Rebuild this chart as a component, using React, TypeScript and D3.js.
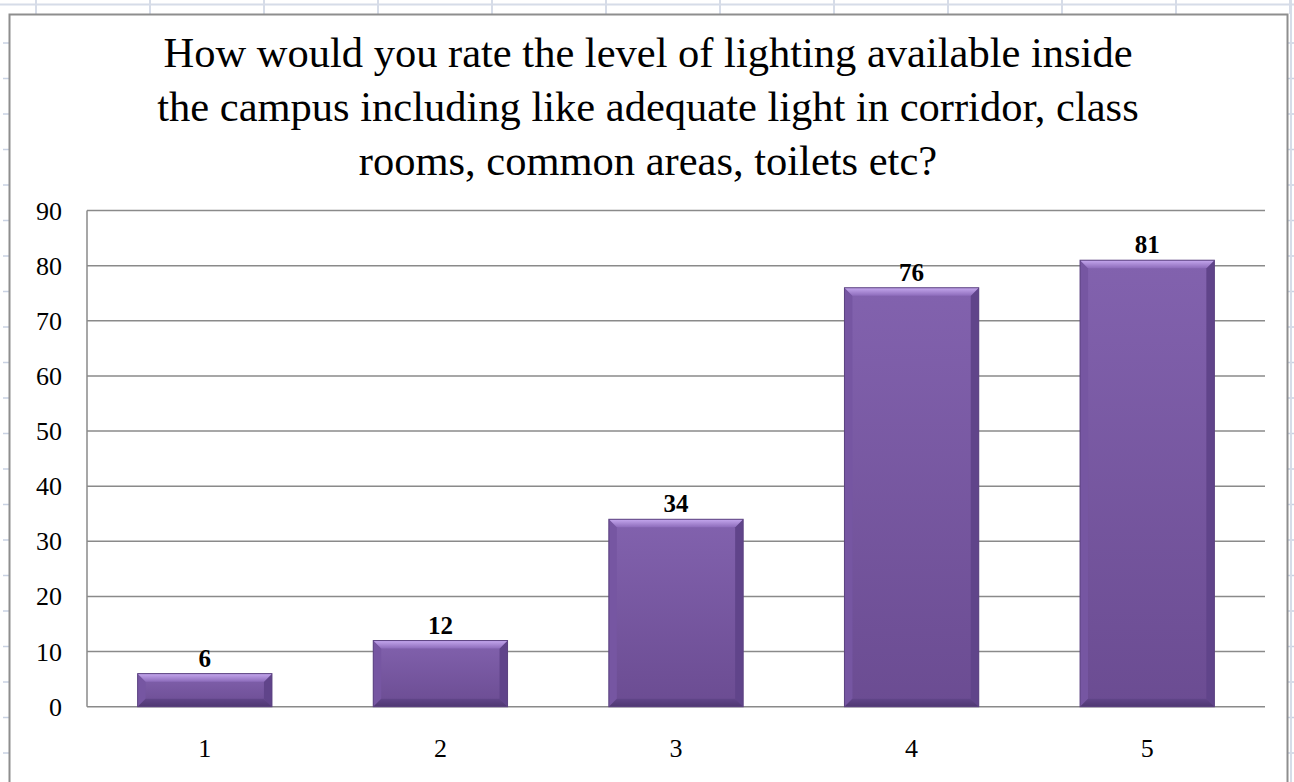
import React from "react";
import * as d3 from "d3";

const categories = ["1", "2", "3", "4", "5"];
const values = [6, 12, 34, 76, 81];
const yTicks = [0, 10, 20, 30, 40, 50, 60, 70, 80, 90];
const titleLines = [
  "How would you rate the level of lighting available inside",
  "the campus including like adequate light in corridor, class",
  "rooms, common areas, toilets etc?",
];

const W = 1294;
const H = 782;
const plot = { left: 87, right: 1265, top: 210.6, bottom: 706.7 };

export default function App() {
  const x = d3.scaleBand().domain(categories).range([plot.left, plot.right]).paddingInner(0.43).paddingOuter(0.215);
  const y = d3.scaleLinear().domain([0, 90]).range([plot.bottom, plot.top]);
  const font = "'Liberation Serif', 'Times New Roman', serif";
  const colTicks = d3.range(36, 1300, 114);
  const rowTicks = d3.range(43, 782, 35.5);
  const bev = 8;
  return (
    <svg width={W} height={H} style={{ position: "absolute", left: 0, top: 0, background: "#fff" }}>
      <defs>
        <linearGradient id="face" x1="0" y1="0" x2="0" y2="1">
          <stop offset="0" stopColor="#8262ae" />
          <stop offset="1" stopColor="#6b4c92" />
        </linearGradient>
        <linearGradient id="topbev" x1="0" y1="0" x2="0" y2="1">
          <stop offset="0" stopColor="#c5a8ee" />
          <stop offset="1" stopColor="#8d6cbb" />
        </linearGradient>
        <linearGradient id="botbev" x1="0" y1="0" x2="0" y2="1">
          <stop offset="0" stopColor="#614589" />
          <stop offset="1" stopColor="#4f3872" />
        </linearGradient>
      </defs>
      <rect x={0} y={0} width={W} height={H} fill="#fff" />
      {/* spreadsheet background */}
      <line x1={0} x2={W} y1={4.5} y2={4.5} stroke="#d6dce8" strokeWidth={2} />
      {colTicks.map((cx) => (
        <line key={cx} x1={cx} x2={cx} y1={0} y2={14} stroke="#d6dce8" strokeWidth={2} />
      ))}
      {rowTicks.map((ry) => (
        <g key={ry}>
          <line x1={3} x2={9} y1={ry} y2={ry} stroke="#c9d2e3" strokeWidth={1.5} />
          <line x1={1288} x2={1294} y1={ry} y2={ry} stroke="#c9d2e3" strokeWidth={1.5} />
        </g>
      ))}
      <line x1={1291} x2={1291} y1={0} y2={H} stroke="#d6dce8" strokeWidth={2} />
      {/* chart frame */}
      <rect x={9.5} y={14.5} width={1278} height={H} fill="#fff" stroke="#8e8e8e" strokeWidth={2} />
      {/* title */}
      {titleLines.map((t, i) => (
        <text key={i} x={648} y={67 + i * 54} textAnchor="middle" fontFamily={font} fontSize={42.5} fill="#000">
          {t}
        </text>
      ))}
      {/* gridlines */}
      {yTicks.map((t) => (
        <g key={t}>
          <line x1={plot.left} x2={plot.right} y1={y(t)} y2={y(t)} stroke="#8a8a8a" strokeWidth={1.5} />
          <text x={62} y={y(t) + 9} textAnchor="end" fontFamily={font} fontSize={26} fill="#000">
            {t}
          </text>
        </g>
      ))}
      <line x1={plot.left} x2={plot.left} y1={plot.top} y2={plot.bottom} stroke="#8a8a8a" strokeWidth={1.5} />
      {/* bars */}
      {values.map((v, i) => {
        const bx = x(categories[i])!;
        const bw = x.bandwidth();
        const top = y(v);
        const bot = y(0);
        const b = Math.min(bev, (bot - top) / 2);
        return (
          <g key={i}>
            <rect x={bx} y={top} width={bw} height={bot - top} fill="url(#face)" />
            <polygon points={`${bx},${top} ${bx + b},${top + b} ${bx + b},${bot - b} ${bx},${bot}`} fill="#7656a2" />
            <polygon points={`${bx + bw},${top} ${bx + bw - b},${top + b} ${bx + bw - b},${bot - b} ${bx + bw},${bot}`} fill="#60448a" />
            <polygon points={`${bx},${top} ${bx + bw},${top} ${bx + bw - b},${top + b} ${bx + b},${top + b}`} fill="url(#topbev)" />
            <polygon points={`${bx},${bot} ${bx + b},${bot - b} ${bx + bw - b},${bot - b} ${bx + bw},${bot}`} fill="url(#botbev)" />
            <rect x={bx} y={top} width={bw} height={bot - top} fill="none" stroke="#5b4280" strokeWidth={1} />
            <text x={bx + bw / 2} y={top - 7} textAnchor="middle" fontFamily={font} fontWeight="bold" fontSize={25} fill="#000">
              {v}
            </text>
          </g>
        );
      })}
      {categories.map((c) => (
        <text key={c} x={x(c)! + x.bandwidth() / 2} y={757} textAnchor="middle" fontFamily={font} fontSize={26} fill="#000">
          {c}
        </text>
      ))}
    </svg>
  );
}
